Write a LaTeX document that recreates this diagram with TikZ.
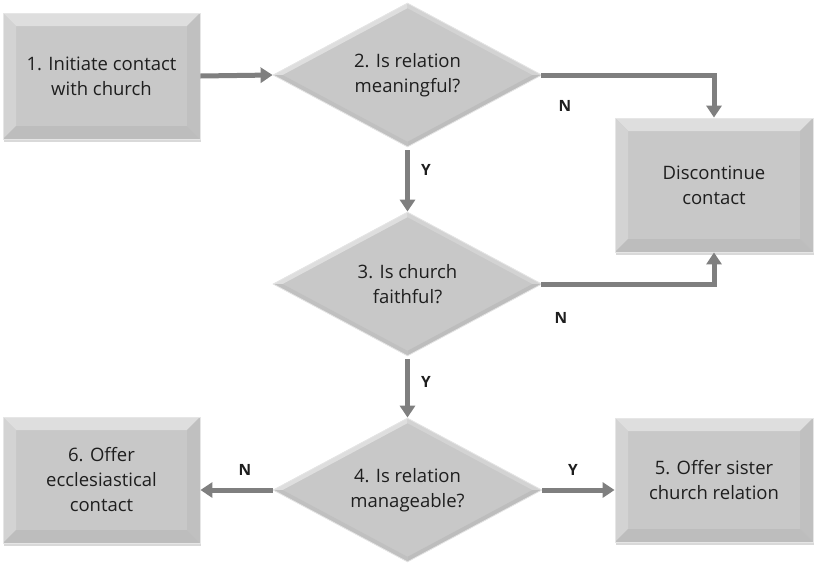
\documentclass[tikz,border=0pt]{standalone}
\usepackage{fontspec}
\setmainfont{Open Sans}
\usetikzlibrary{shapes.geometric,arrows.meta,calc,shadows}
\definecolor{face}{HTML}{C8C8C8}
\definecolor{btop}{HTML}{DEDEDE}
\definecolor{bleft}{HTML}{D3D3D3}
\definecolor{bright}{HTML}{C0C0C0}
\definecolor{bbot}{HTML}{BDBDBD}
\definecolor{edge}{HTML}{E6E6E6}
\definecolor{shade}{HTML}{D9D9D9}
\definecolor{arrowgray}{HTML}{7F7F7F}
\definecolor{txt}{HTML}{1E1E1E}
\tikzset{
  x=1pt,y=-1pt,
  bevelbox/.style={rectangle,fill=face,draw=edge,line width=0.8pt,inner sep=0pt,align=center,text=txt,
    font=\fontsize{18.5}{25}\selectfont,
    drop shadow={shadow xshift=1pt,shadow yshift=-2.5pt,fill=shade,opacity=1},
    path picture={
      \def\bv{13pt}
      \fill[btop] (path picture bounding box.north west) -- (path picture bounding box.north east)
        -- ([shift={(-\bv,-\bv)}]path picture bounding box.north east) -- ([shift={(\bv,-\bv)}]path picture bounding box.north west) -- cycle;
      \fill[bleft] (path picture bounding box.north west) -- (path picture bounding box.south west)
        -- ([shift={(\bv,\bv)}]path picture bounding box.south west) -- ([shift={(\bv,-\bv)}]path picture bounding box.north west) -- cycle;
      \fill[bright] (path picture bounding box.north east) -- (path picture bounding box.south east)
        -- ([shift={(-\bv,\bv)}]path picture bounding box.south east) -- ([shift={(-\bv,-\bv)}]path picture bounding box.north east) -- cycle;
      \fill[bbot] (path picture bounding box.south west) -- (path picture bounding box.south east)
        -- ([shift={(-\bv,\bv)}]path picture bounding box.south east) -- ([shift={(\bv,\bv)}]path picture bounding box.south west) -- cycle;
    }},
  bevelgem/.style={diamond,fill=face,draw=edge,line width=0.8pt,inner sep=0pt,align=center,text=txt,aspect=2,
    minimum width=269pt,minimum height=144pt,
    font=\fontsize{18.5}{25}\selectfont,
    path picture={
      \coordinate (pc) at (path picture bounding box.center);
      \coordinate (pn) at (path picture bounding box.north);
      \coordinate (ps) at (path picture bounding box.south);
      \coordinate (pe) at (path picture bounding box.east);
      \coordinate (pw) at (path picture bounding box.west);
      \fill[btop] (pw) -- (pn) -- ($(pc)!0.93!(pn)$) -- ($(pc)!0.93!(pw)$) -- cycle;
      \fill[bleft] (pn) -- (pe) -- ($(pc)!0.93!(pe)$) -- ($(pc)!0.93!(pn)$) -- cycle;
      \fill[bbot] (pe) -- (ps) -- ($(pc)!0.93!(ps)$) -- ($(pc)!0.93!(pe)$) -- cycle;
      \fill[bright] (ps) -- (pw) -- ($(pc)!0.93!(pw)$) -- ($(pc)!0.93!(ps)$) -- cycle;
    }},
  conn/.style={draw=arrowgray,line width=5pt,-{Triangle[length=12pt,width=15pt]}},
  lbl/.style={font=\bfseries\fontsize{15.5}{17}\selectfont,text=txt,inner sep=0pt}
}
\begin{document}
\begin{tikzpicture}
\useasboundingbox (0,0) rectangle (814,563);
\node[bevelbox,minimum width=197pt,minimum height=126pt] (b1) at (101.5,76) {1. Initiate contact\\with church};
\node[bevelgem] (d2) at (407.5,75) {2. Is relation\\meaningful?};
\node[bevelbox,minimum width=198pt,minimum height=134pt] (disc) at (714,185) {Discontinue\\contact};
\node[bevelgem] (d3) at (407.5,284) {3. Is church\\faithful?};
\node[bevelgem] (d4) at (407.5,490) {4. Is relation\\manageable?};
\node[bevelbox,minimum width=197pt,minimum height=126pt] (b6) at (101.5,480) {6. Offer\\ecclesiastical\\contact};
\node[bevelbox,minimum width=198pt,minimum height=124pt] (b5) at (714,480) {5. Offer sister\\church relation};

\draw[conn] (b1.east) -- (d2.west);
\draw[conn,shorten <=-1pt] (d2.east) -| (disc.north);
\draw[conn,shorten <=3pt] (d2.south) -- (d3.north);
\draw[conn,shorten <=-1pt] (d3.east) -| (disc.south);
\draw[conn,shorten <=3pt] (d3.south) -- (d4.north);
\draw[conn] (d4.west) -- (d4.west -| b6.east);
\draw[conn] (d4.east) -- (d4.east -| b5.west);

\node[lbl] (n1) at (565,106) {N};
\node[lbl] (y1) at (426,170) {Y};
\node[lbl] (n2) at (561,318) {N};
\node[lbl] (y2) at (426,382) {Y};
\node[lbl] (n3) at (245,470) {N};
\node[lbl] (y3) at (573,470) {Y};
\end{tikzpicture}
\end{document}
